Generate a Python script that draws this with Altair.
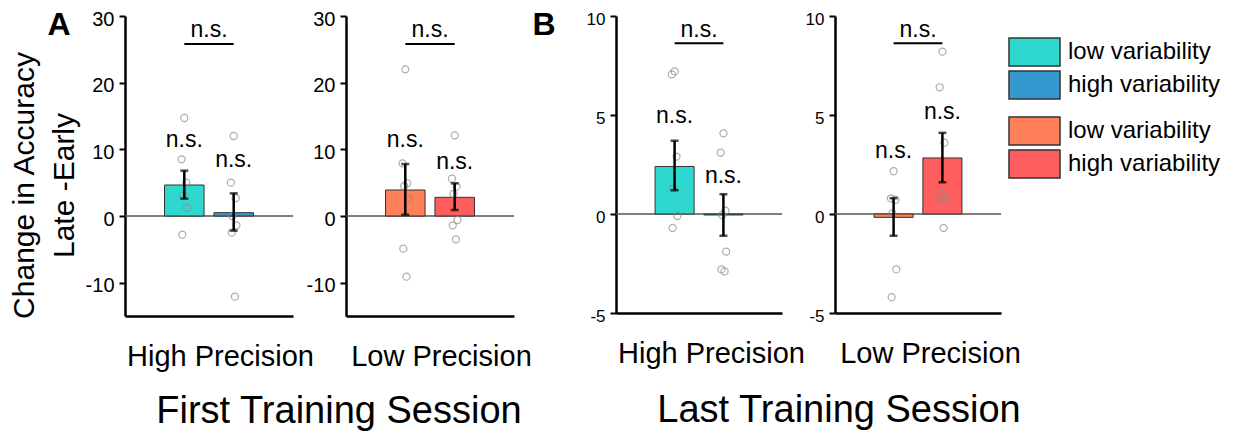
import altair as alt
import pandas as pd

FONT = "Liberation Sans"

conds = ["low", "high"]
cond_labels = ["low variability", "high variability"]

# ---------- First training session ----------
# High precision (low / high variability)
a_hp_mean = [4.65, 0.5]
a_hp_lo = [2.6, -2.2]
a_hp_hi = [6.8, 3.4]
a_hp_ns = [10.3, 7.3]
a_hp_low_pts = [14.7, 8.5, 5.0, 3.1, 1.2, -2.8]
a_hp_high_pts = [12.0, 5.0, 2.7, 0.0, -1.4, -2.5, -12.1]

# Low precision
a_lp_mean = [3.9, 2.8]
a_lp_lo = [0.2, 0.9]
a_lp_hi = [7.8, 4.9]
a_lp_ns = [10.3, 7.0]
a_lp_low_pts = [22.0, 7.9, 4.9, 4.5, 2.6, -4.9, -9.1]
a_lp_high_pts = [12.1, 5.6, 4.4, 3.3, -0.6, -1.4, -3.5]

# ---------- Last training session ----------
b_hp_mean = [2.4, -0.05]
b_hp_lo = [1.2, -1.1]
b_hp_hi = [3.7, 1.0]
b_hp_ns = [4.6, 1.55]
b_hp_low_pts = [7.2, 7.05, 2.9, 1.3, -0.1, -0.7]
b_hp_high_pts = [4.07, 3.1, 0.17, -0.05, -1.9, -2.8, -2.9]

b_lp_mean = [-0.17, 2.83]
b_lp_lo = [-1.1, 1.6]
b_lp_hi = [0.8, 4.1]
b_lp_ns = [2.85, 4.8]
b_lp_low_pts = [2.16, 0.79, 0.72, 0.03, -2.8, -4.2]
b_lp_high_pts = [8.2, 6.4, 3.6, 1.0, 0.75, 0.75, -0.7]

# bracket (between-condition comparison) heights
a_bracket = 25.8
b_bracket = 8.62

a_ticks = [-10, 0, 10, 20, 30]
b_ticks = [-5, 0, 5, 10]

PAL_HIGH = ["#2fd8cf", "#3399cf"]
PAL_LOW = ["#ff8059", "#ff5e5e"]

JIT = [0.0, -0.14, 0.1, -0.06, 0.14, -0.1, 0.06, 0.0]

HYPHEN_LABELS = "datum.value < 0 ? '-' + abs(datum.value) : '' + datum.value"


def panel(mean, lo, hi, ns, pts_low, pts_high, pal, dom, ticks, tick_font,
          width, height, bracket_y, bracket_dy, precision, ytitle=None,
          letter=None, letter_x=0, group_title=None, title_dx=0, title_offset=52):
    bars = pd.DataFrame({"cond": conds, "mean": mean, "lo": lo, "hi": hi,
                         "ns": ns, "lab": ["n.s.", "n.s."], "col": pal})
    rows = []
    for c, vals in zip(conds, [pts_low, pts_high]):
        for i, v in enumerate(vals):
            rows.append({"cond": c, "value": v, "jit": JIT[i % len(JIT)]})
    pts = pd.DataFrame(rows)
    br = pd.DataFrame({"x0": ["low"], "x1": ["high"], "by": [bracket_y], "lab": ["n.s."]})

    xs = alt.Scale(domain=conds, paddingInner=0.2, paddingOuter=0.8)
    bandw = width / 3.4 * 0.8
    xaxis = alt.Axis(labels=False, ticks=False, grid=False, domainColor="black",
                     domainWidth=2.5, title=precision, titleFontSize=29,
                     titleFontWeight="normal", titleColor="black", titleFont=FONT,
                     titleX=95, titleY=49, titleBaseline="alphabetic", titleAlign="center")
    ys = alt.Scale(domain=dom, nice=False, zero=False)
    yaxis = alt.Axis(values=ticks, title=ytitle, grid=False, domainColor="black",
                     domainWidth=2.5, tickColor="black", tickWidth=2, tickSize=6,
                     labelFontSize=tick_font, labelColor="black", labelPadding=5,
                     labelFont=FONT, labelOffset=3, labelFlush=False,
                     labelExpr=HYPHEN_LABELS,
                     titleX=-92, titleY=169, titleAlign="center",
                     titleBaseline="alphabetic", titleLineHeight=40, titleFontSize=30,
                     titleFontWeight="normal", titleColor="black", titleFont=FONT)

    def X(f="cond"):
        return alt.X(f"{f}:N", sort=conds, scale=xs, axis=xaxis)

    def Y(f):
        return alt.Y(f"{f}:Q", scale=ys, axis=yaxis)

    zero = alt.Chart(bars).mark_rule(color="#555555", strokeWidth=1).encode(y=alt.datum(0))
    bar = alt.Chart(bars).mark_bar(stroke="#333333", strokeWidth=1, width=bandw).encode(
        x=X(), y=Y("mean"), y2=alt.datum(0), fill=alt.Fill("col:N", scale=None))
    dots = alt.Chart(pts).mark_point(filled=False, stroke="#8a8a8a", strokeWidth=1.2,
                                     size=50).encode(
        x=X(), xOffset=alt.XOffset("jit:Q", scale=alt.Scale(domain=[-1, 1])), y=Y("value"))
    err = alt.Chart(bars).mark_rule(color="black", strokeWidth=2.5).encode(
        x=X(), y=Y("lo"), y2="hi:Q")
    cap_lo = alt.Chart(bars).mark_tick(color="black", thickness=2.5, size=8).encode(
        x=X(), y=Y("lo"))
    cap_hi = alt.Chart(bars).mark_tick(color="black", thickness=2.5, size=8).encode(
        x=X(), y=Y("hi"))
    ns_t = alt.Chart(bars).mark_text(font=FONT, fontSize=23, baseline="alphabetic",
                                     color="black").encode(x=X(), y=Y("ns"), text="lab:N")
    brk = alt.Chart(br).mark_rule(color="black", strokeWidth=2).encode(
        x=X("x0"), x2="x1:N", y=Y("by"))
    brk_t = alt.Chart(br).mark_text(font=FONT, fontSize=23, baseline="alphabetic",
                                    dy=bracket_dy, color="black").encode(
        x=alt.value(width / 2), y=Y("by"), text="lab:N")
    layers = [zero, bar, dots, err, cap_lo, cap_hi, ns_t, brk, brk_t]
    if letter:
        ldf = pd.DataFrame({"t": [letter]})
        layers.append(alt.Chart(ldf).mark_text(font=FONT, fontSize=32, fontWeight="bold",
                                               baseline="alphabetic", align="center",
                                               color="black").encode(
            x=alt.value(letter_x), y=alt.value(19), text="t:N"))
    ch = alt.layer(*layers).properties(width=width, height=height)
    if group_title:
        ch = ch.properties(title=alt.TitleParams(
            group_title, orient="bottom", fontSize=38, fontWeight="normal", font=FONT,
            color="black", anchor="middle", frame="group", dx=title_dx,
            offset=title_offset, baseline="alphabetic"))
    return ch


A1 = panel(a_hp_mean, a_hp_lo, a_hp_hi, a_hp_ns, a_hp_low_pts, a_hp_high_pts, PAL_HIGH,
           [-15, 30], a_ticks, 20, 168, 300, a_bracket, -7, "High Precision",
           ytitle=["Change in Accuracy", "Late -Early"], letter="A", letter_x=-66,
           group_title="First Training Session", title_dx=130, title_offset=52)
A2 = panel(a_lp_mean, a_lp_lo, a_lp_hi, a_lp_ns, a_lp_low_pts, a_lp_high_pts, PAL_LOW,
           [-15, 30], a_ticks, 20, 168, 300, a_bracket, -7, "Low Precision")
B1 = panel(b_hp_mean, b_hp_lo, b_hp_hi, b_hp_ns, b_hp_low_pts, b_hp_high_pts, PAL_HIGH,
           [-5, 10], b_ticks, 17, 166, 297, b_bracket, -6, "High Precision",
           letter="B", letter_x=-72,
           group_title="Last Training Session", title_dx=140, title_offset=54)
B2 = panel(b_lp_mean, b_lp_lo, b_lp_hi, b_lp_ns, b_lp_low_pts, b_lp_high_pts, PAL_LOW,
           [-5, 10], b_ticks, 17, 166, 297, b_bracket, -6, "Low Precision")


def legend_part(labels_df, rng):
    ysc = alt.Scale(domain=cond_labels, paddingInner=0.152, paddingOuter=0, range=rng)
    rect = alt.Chart(labels_df).mark_rect(stroke="#333333", strokeWidth=1.5).encode(
        x=alt.value(0), x2=alt.value(51), y=alt.Y("label:N", scale=ysc, axis=None),
        fill=alt.Fill("col:N", scale=None))
    txt = alt.Chart(labels_df).mark_text(font=FONT, fontSize=24, align="left",
                                         baseline="middle", color="black").encode(
        x=alt.value(59), y=alt.Y("label:N", scale=ysc, axis=None), text="label:N")
    return alt.layer(rect, txt)


leg_high = pd.DataFrame({"label": cond_labels, "col": PAL_HIGH})
leg_low = pd.DataFrame({"label": cond_labels, "col": PAL_LOW})
legend = alt.layer(legend_part(leg_high, [22, 83]),
                   legend_part(leg_low, [101, 162])).resolve_scale(
    y="independent").properties(width=51, height=162)


def spacer(w):
    return alt.Chart(pd.DataFrame({"v": [0]})).mark_point(opacity=0).encode(
        x=alt.value(0), y=alt.value(0)).properties(width=w, height=1)


RES = dict(x="independent", y="independent", xOffset="independent")

chart = alt.hconcat(A1, spacer(53), A2, spacer(102), B1, spacer(53), B2, spacer(8), legend,
                    spacing=0, bounds="flush").resolve_scale(**RES)
chart = chart.properties(padding={"left": 1, "top": 1, "right": 5, "bottom": 5}).configure_view(
    stroke=None)

chart.save("out.html", embed_options={"renderer": "svg", "actions": False})
